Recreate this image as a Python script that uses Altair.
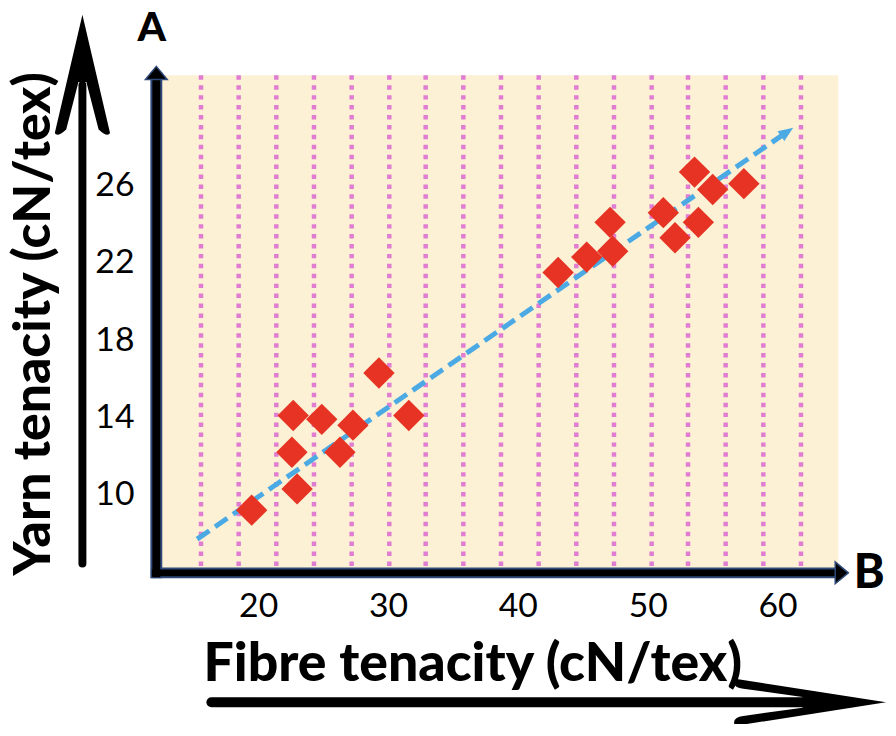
import altair as alt
import pandas as pd

# ---- data ----
fibre = [19.5, 22.6, 23.0, 22.7, 24.9, 26.3, 27.3, 29.3, 31.6,
         43.1, 45.3, 47.1, 47.3, 51.2, 52.1, 53.6, 53.9, 55.0, 57.4]
yarn = [9.2, 12.2, 10.3, 14.1, 13.9, 12.2, 13.6, 16.3, 14.1,
        21.5, 22.3, 24.1, 22.6, 24.6, 23.3, 26.7, 24.1, 25.8, 26.1]
trend_fibre = [15.3, 61.2]
trend_yarn = [7.7, 29.0]
grid_x = [15.6, 18.5, 21.4, 24.3, 27.2, 30.1, 32.9, 35.8, 38.7,
          41.6, 44.5, 47.4, 50.3, 53.1, 56.0, 58.9, 61.8]
x_ticks = [20, 30, 40, 50, 60]
y_ticks = [10, 14, 18, 22, 26]

TITLE_FONT = "Lato"
LABEL_FONT = "Lato"

xs = alt.Scale(domain=[12.58, 64.68], nice=False, zero=False)
ys = alt.Scale(domain=[5.98, 31.71], nice=False, zero=False)

pts = pd.DataFrame({"x": fibre, "y": yarn})
grid = pd.DataFrame({"x": grid_x})


def along(f):
    return {"x": trend_fibre[0] + f * (trend_fibre[1] - trend_fibre[0]),
            "y": trend_yarn[0] + f * (trend_yarn[1] - trend_yarn[0])}


trend_line = pd.DataFrame([along(0.0), along(0.98)])
trend_head = pd.DataFrame([along(0.9897)])

one = pd.DataFrame({"k": [0]})

x_axis = alt.Axis(values=x_ticks, title="Fibre tenacity (cN/tex)", domain=False,
                  ticks=False, tickSize=0, grid=False, labelFont=LABEL_FONT,
                  labelFontSize=34, labelColor="black", labelPadding=17,
                  labelFlush=False, labelOverlap=False,
                  titleFont=TITLE_FONT, titleFontSize=54, titleFontWeight=900,
                  titleColor="black", titleX=313, titleY=109, titleAlign="center",
                  titleBaseline="alphabetic")
y_axis = alt.Axis(values=y_ticks, title="Yarn tenacity (cN/tex)", domain=False,
                  ticks=False, tickSize=0, grid=False, labelFont=LABEL_FONT,
                  labelFontSize=34, labelColor="black", labelPadding=28,
                  labelFlush=False, labelOverlap=False,
                  titleFont=TITLE_FONT, titleFontSize=52, titleFontWeight=900,
                  titleColor="black", titleAngle=270, titleX=-113, titleY=250,
                  titleAlign="center", titleBaseline="alphabetic")

X = alt.X("x:Q", scale=xs, axis=x_axis)
Y = alt.Y("y:Q", scale=ys, axis=y_axis)

grid_layer = alt.Chart(grid).mark_rule(
    color="#E07DD2", strokeWidth=4.5, strokeDash=[4.5, 5.5]
).encode(x=X)

trend_layer = alt.Chart(trend_line).mark_line(
    color="#4BA9E3", strokeWidth=5, strokeDash=[15, 7], strokeCap="butt"
).encode(x=X, y=Y)

head_layer = alt.Chart(trend_head).mark_point(
    shape="M0,-1 L0.8,1 L-0.8,1 Z", size=225, filled=True, color="#4BA9E3",
    opacity=1, angle=55.4, strokeWidth=0
).encode(x=X, y=Y)

point_layer = alt.Chart(pts).mark_point(
    shape="diamond", filled=True, size=1000, color="#E63323", opacity=1, strokeWidth=0
).encode(x=X, y=Y)

# ---- plot-frame axes (navy outlined black bars with arrow heads) ----
NAVY = "#2F4A7A"
vbar_o = alt.Chart(one).mark_rule(color=NAVY, strokeWidth=12).encode(
    x=alt.value(-5.5), y=alt.value(-3), y2=alt.value(507))
vbar_i = alt.Chart(one).mark_rule(color="black", strokeWidth=8).encode(
    x=alt.value(-5.5), y=alt.value(-3), y2=alt.value(506))
hbar_o = alt.Chart(one).mark_rule(color=NAVY, strokeWidth=11).encode(
    y=alt.value(501.5), x=alt.value(-11), x2=alt.value(683))
hbar_i = alt.Chart(one).mark_rule(color="black", strokeWidth=7).encode(
    y=alt.value(501.5), x=alt.value(-10), x2=alt.value(683))
ARROW = "M0,-1 L1,0.2 L-1,0.2 Z"
vtip = alt.Chart(one).mark_point(shape=ARROW, size=484, filled=True, fill="black",
                                 stroke=NAVY, strokeWidth=1.5, opacity=1).encode(
    x=alt.value(-5.5), y=alt.value(2))
htip = alt.Chart(one).mark_point(shape=ARROW, size=484, filled=True, fill="black",
                                 stroke=NAVY, strokeWidth=1.5, opacity=1, angle=90).encode(
    x=alt.value(681), y=alt.value(501.5))

# ---- big black arrows beside the axis titles ----
big_v_shaft = alt.Chart(one).mark_rule(color="black", strokeWidth=8, strokeCap="round").encode(
    x=alt.value(-80), y=alt.value(10), y2=alt.value(492))
big_v_head = alt.Chart(one).mark_point(
    shape="M0,-1 L-0.46,0.97 Q-0.42,1.05 -0.27,0.91 L-0.066,0.12 L0.066,0.12 L0.27,0.91 Q0.42,1.05 0.46,0.97 Z",
    size=14641, filled=True, color="black", opacity=1, strokeWidth=0).encode(
    x=alt.value(-80), y=alt.value(-0.5))
big_h_shaft = alt.Chart(one).mark_rule(color="black", strokeWidth=10, strokeCap="round").encode(
    y=alt.value(632), x=alt.value(50), x2=alt.value(650))
big_h_head = alt.Chart(one).mark_point(
    shape="M1,0 L-0.99,-0.31 Q-1.04,-0.2 -0.88,-0.18 L-0.1,-0.07 L-0.1,0.07 L-0.88,0.18 Q-1.04,0.2 -0.99,0.31 Z",
    size=23409, filled=True, color="black", opacity=1, strokeWidth=0).encode(
    x=alt.value(653.5), y=alt.value(632))

label_a = alt.Chart(one).mark_text(text="A", font=TITLE_FONT, fontSize=41, fontWeight=900,
                                   color="black", align="center", baseline="middle").encode(
    x=alt.value(-10), y=alt.value(-47))
label_b = alt.Chart(one).mark_text(text="B", font=TITLE_FONT, fontSize=47, fontWeight=900,
                                   color="black", align="center", baseline="middle").encode(
    x=alt.value(713), y=alt.value(503))

chart = alt.layer(
    grid_layer, trend_layer, head_layer, point_layer,
    vbar_o, hbar_o, vbar_i, hbar_i, vtip, htip,
    big_v_shaft, big_v_head, big_h_shaft, big_h_head, label_a, label_b
).properties(
    width=682, height=501,
    padding={"left": 155, "top": 65, "right": 50, "bottom": 150},
    autosize=alt.AutoSizeParams(type="none"),
    background="white"
).configure_view(fill="#FCF1D5", strokeWidth=0)

chart.save("out.html", embed_options={"renderer": "svg", "actions": False})
